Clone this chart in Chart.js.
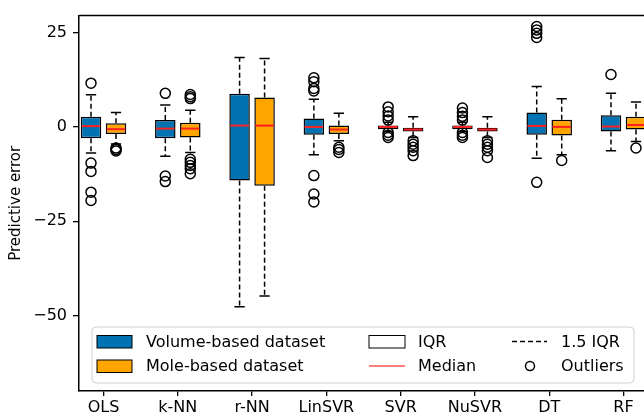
<!DOCTYPE html>
<html>
<head>
<meta charset="utf-8">
<script src="https://cdn.jsdelivr.net/npm/chart.js@4"></script>
<style>
  html, body { margin: 0; padding: 0; background: #fff; overflow: hidden; }
  #wrap { width: 644px; height: 419px; overflow: hidden; }
  #myChart { width: 690px; height: 419px; display: block; }
</style>
</head>
<body>
<div id="wrap"><canvas id="myChart" width="690" height="419"></canvas></div>
<script>
const categories = ['OLS', 'k-NN', 'r-NN', 'LinSVR', 'SVR', 'NuSVR', 'DT', 'RF'];

// Volume-based dataset (blue)
const volLow    = [-6.9, -7.8, -47.7, -7.4, -1.2, -1.2, -8.3, -6.3];
const volQ1     = [-3.0, -3.0, -14.2, -2.1, -0.6, -0.6, -2.1, -1.2];
const volMedian = [0.2, -0.45, 0.35, 0.0, 0.0, 0.0, 0.26, 0.1];
const volQ3     = [2.7, 1.8, 8.8, 2.2, 0.4, 0.4, 3.8, 3.1];
const volHigh   = [8.5, 5.8, 18.4, 7.3, 1.2, 1.2, 10.7, 8.9];
const volOutliers = [
  [11.6, -9.6, -11.8, -17.3, -19.5],
  [8.9, -13.0, -14.5],
  [],
  [13.0, 12.0, 10.2, 9.5, -12.9, -17.8, -19.9],
  [5.3, 4.0, 2.9, 1.8, -1.5, -2.2, -2.8],
  [5.0, 3.8, 2.8, 1.8, -1.5, -2.2, -2.8],
  [26.6, 25.7, 24.8, 23.7, -14.7],
  [13.9]
];

// Mole-based dataset (orange)
const moleLow    = [-4.5, -6.8, -44.8, -3.7, -2.8, -2.8, -7.4, -3.9];
const moleQ1     = [-1.85, -2.8, -15.6, -1.9, -1.2, -1.2, -2.3, -0.7];
const moleMedian = [-0.6, -0.45, 0.35, -0.7, -0.7, -0.7, 0.0, 0.5];
const moleQ3     = [1.0, 1.1, 7.8, 0.35, -0.2, -0.2, 1.9, 2.7];
const moleHigh   = [3.8, 4.4, 18.1, 3.6, 2.7, 2.7, 7.45, 6.6];
const moleOutliers = [
  [-5.6, -6.0, -6.4],
  [8.6, 8.0, 7.5, -8.6, -9.4, -10.2, -11.1, -12.4],
  [],
  [-5.4, -6.0, -6.8],
  [-3.7, -4.6, -5.4, -6.3, -7.6],
  [-3.7, -4.6, -5.4, -6.3, -8.1],
  [-8.9],
  [-5.6]
];

const yTicks = [-50, -25, 0, 25];

const BLUE = '#0173b2';
const ORANGE = '#ffa500';
const CAT_PCT = 0.673;
const FONT = '"DejaVu Sans", sans-serif';

const series = [
  {lo: volLow, q1: volQ1, med: volMedian, q3: volQ3, hi: volHigh},
  {lo: moleLow, q1: moleQ1, med: moleMedian, q3: moleQ3, hi: moleHigh}
];

// x of an outlier = category position shifted to its box centre
const outlierPoints = (list, side) => list.flatMap((vals, i) =>
  vals.map(v => ({x: i + 1 + side * CAT_PCT / 4, y: v})));

// whiskers, caps and medians, placed on the bars drawn by Chart.js
const boxParts = {
  id: 'boxParts',
  afterDatasetsDraw(chart) {
    const ctx = chart.ctx;
    const y = chart.scales.y;
    series.forEach((s, d) => {
      chart.getDatasetMeta(d).data.forEach((bar, i) => {
        const x = bar.x, w = bar.width;
        ctx.save();
        ctx.strokeStyle = '#000';
        ctx.lineWidth = 1.5;
        ctx.setLineDash([5, 3]);
        ctx.beginPath();
        ctx.moveTo(x, y.getPixelForValue(s.q3[i]));
        ctx.lineTo(x, y.getPixelForValue(s.hi[i]));
        ctx.moveTo(x, y.getPixelForValue(s.q1[i]));
        ctx.lineTo(x, y.getPixelForValue(s.lo[i]));
        ctx.stroke();
        ctx.setLineDash([]);
        ctx.beginPath();
        [s.hi[i], s.lo[i]].forEach(v => {
          const py = y.getPixelForValue(v);
          ctx.moveTo(x - w / 4, py);
          ctx.lineTo(x + w / 4, py);
        });
        ctx.stroke();
        ctx.strokeStyle = '#ff2020';
        ctx.lineWidth = 2;
        ctx.beginPath();
        const pm = y.getPixelForValue(s.med[i]);
        ctx.moveTo(x - w / 2 + 1, pm);
        ctx.lineTo(x + w / 2 - 1, pm);
        ctx.stroke();
        ctx.restore();
      });
    });
  }
};

const frameAndLegend = {
  id: 'frameAndLegend',
  afterDraw(chart) {
    const {ctx, chartArea: a} = chart;
    ctx.save();
    // top spine
    ctx.strokeStyle = '#000';
    ctx.lineWidth = 1.5;
    ctx.beginPath();
    ctx.moveTo(a.left, a.top);
    ctx.lineTo(a.right, a.top);
    ctx.stroke();

    // legend frame
    const lx = a.left + 13, ly = a.bottom - 64, lw = 542, lh = 56;
    ctx.beginPath();
    ctx.roundRect(lx, ly, lw, lh, 4);
    ctx.fillStyle = 'rgba(255,255,255,0.8)';
    ctx.fill();
    ctx.strokeStyle = '#d0d0d0';
    ctx.lineWidth = 1;
    ctx.stroke();

    const r1 = ly + 14.5, r2 = ly + 39;
    ctx.font = '16px ' + FONT;
    ctx.fillStyle = '#000';
    ctx.textBaseline = 'middle';
    ctx.textAlign = 'left';

    // column 1: series swatches
    ctx.lineWidth = 1;
    ctx.strokeStyle = '#000';
    [[BLUE, r1, 'Volume-based dataset'], [ORANGE, r2, 'Mole-based dataset']].forEach(([c, ry, t]) => {
      ctx.fillStyle = c;
      ctx.fillRect(lx + 5, ry - 6, 35, 12.5);
      ctx.strokeRect(lx + 5, ry - 6, 35, 12.5);
      ctx.fillStyle = '#000';
      ctx.fillText(t, lx + 54, ry + 1);
    });

    // column 2: IQR box and median
    ctx.strokeRect(lx + 277, r1 - 6, 36, 12.5);
    ctx.fillText('IQR', lx + 326, r1 + 1);
    ctx.strokeStyle = '#ff0000';
    ctx.lineWidth = 1.2;
    ctx.beginPath();
    ctx.moveTo(lx + 277, r2);
    ctx.lineTo(lx + 313, r2);
    ctx.stroke();
    ctx.fillText('Median', lx + 326, r2 + 1);

    // column 3: whisker and outlier
    ctx.strokeStyle = '#000';
    ctx.lineWidth = 1.5;
    ctx.setLineDash([5, 3]);
    ctx.beginPath();
    ctx.moveTo(lx + 420, r1);
    ctx.lineTo(lx + 455, r1);
    ctx.stroke();
    ctx.setLineDash([]);
    ctx.fillText('1.5 IQR', lx + 469, r1 + 1);
    ctx.beginPath();
    ctx.arc(lx + 438, r2, 4.5, 0, Math.PI * 2);
    ctx.stroke();
    ctx.fillText('Outliers', lx + 469, r2 + 1);
    ctx.restore();
  }
};

let myChart;
const setup = () => {
  const ctxt = document.getElementById('myChart').getContext('2d');
  Chart.defaults.font.family = FONT;
  Chart.defaults.color = '#000';

  const boxOpts = {
    categoryPercentage: CAT_PCT,
    barPercentage: 0.82,
    borderColor: '#000',
    borderWidth: 1.5,
    borderSkipped: false
  };
  const outlierOpts = {
    type: 'scatter',
    order: -1,
    pointRadius: 5,
    pointBackgroundColor: 'rgba(0,0,0,0)',
    pointBorderColor: '#000',
    pointBorderWidth: 1.5
  };

  myChart = new Chart(ctxt, {
    type: 'bar',
    data: {
      datasets: [
        {...boxOpts, label: 'Volume-based dataset', backgroundColor: BLUE,
          data: categories.map((_, i) => ({x: i + 1, y: [volQ1[i], volQ3[i]]}))},
        {...boxOpts, label: 'Mole-based dataset', backgroundColor: ORANGE,
          data: categories.map((_, i) => ({x: i + 1, y: [moleQ1[i], moleQ3[i]]}))},
        {...outlierOpts, label: 'Volume outliers', data: outlierPoints(volOutliers, -1)},
        {...outlierOpts, label: 'Mole outliers', data: outlierPoints(moleOutliers, 1)}
      ]
    },
    options: {
      responsive: false,
      animation: false,
      layout: {padding: {top: 14, left: 0, right: 42, bottom: 0}},
      plugins: {legend: {display: false}, tooltip: {enabled: false}},
      scales: {
        x: {
          type: 'linear',
          offset: false,
          min: 0.67,
          max: 8.33,
          afterFit: s => { s.height = 28; },
          grid: {offset: false, drawOnChartArea: false, color: '#000', tickLength: 5, lineWidth: 1.3},
          border: {color: '#000', width: 1.5},
          ticks: {
            stepSize: 1,
            includeBounds: false,
            padding: 2,
            font: {size: 16},
            callback: v => categories[v - 1]
          }
        },
        y: {
          min: -70,
          max: 29.5,
          afterFit: s => { s.width = 79; },
          afterBuildTicks: s => { s.ticks = yTicks.map(v => ({value: v})); },
          grid: {drawOnChartArea: false, color: '#000', tickLength: 6, lineWidth: 1.3},
          border: {color: '#000', width: 1.5},
          ticks: {
            padding: 6,
            font: {size: 16},
            callback: v => String(v).replace('-', '\u2212')
          },
          title: {display: true, text: 'Predictive error', font: {size: 15}, padding: {top: 7, bottom: 0}}
        }
      }
    },
    plugins: [boxParts, frameAndLegend]
  });
};

window.addEventListener('DOMContentLoaded', setup);
</script>
</body>
</html>
